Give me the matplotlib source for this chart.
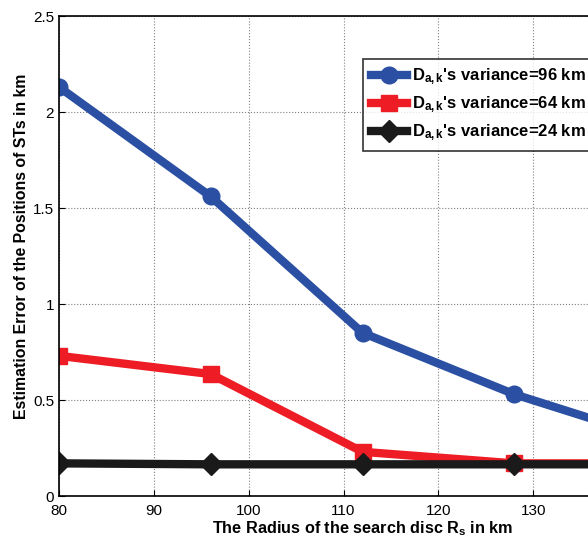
import matplotlib
matplotlib.use("Agg")
import matplotlib.pyplot as plt

plt.rcParams["font.family"] = ["Liberation Sans", "DejaVu Sans"]
plt.rcParams["mathtext.fontset"] = "custom"
plt.rcParams["mathtext.rm"] = "Liberation Sans:bold"
plt.rcParams["mathtext.it"] = "Liberation Sans:bold"
plt.rcParams["mathtext.bf"] = "Liberation Sans:bold"

# dados
raio_km = [80, 96, 112, 128, 144]
erro_var96 = [2.13, 1.56, 0.85, 0.53, 0.28]
erro_var64 = [0.73, 0.635, 0.23, 0.17, 0.17]
erro_var24 = [0.17, 0.165, 0.165, 0.165, 0.165]
rotulos = [r"$\mathrm{D_{a,k}}$'s variance=96 km",
           r"$\mathrm{D_{a,k}}$'s variance=64 km",
           r"$\mathrm{D_{a,k}}$'s variance=24 km"]

fig = plt.figure(figsize=(5.88, 5.41), dpi=100)
# o eixo passa da borda direita, como na figura original (cortada)
ax = fig.add_axes([59/588, 45/541, 607/588, 480/541])

ax.plot(raio_km, erro_var96, color="#2b4fa3", lw=6, marker="o", ms=12,
        label=rotulos[0])
ax.plot(raio_km, erro_var64, color="#ee1c24", lw=6, marker="s", ms=11,
        label=rotulos[1])
ax.plot(raio_km, erro_var24, color="#1a1a1a", lw=6, marker="D", ms=11,
        label=rotulos[2])

ax.set_xlim(80, 144)
ax.set_ylim(0, 2.5)
ax.set_xticks([80, 90, 100, 110, 120, 130, 140])
ax.set_yticks([0, 0.5, 1, 1.5, 2, 2.5])
ax.set_yticklabels(["0", "0.5", "1", "1.5", "2", "2.5"])
ax.tick_params(direction="in", labelsize=11, length=4)
ax.tick_params(axis="x", pad=6)
ax.grid(True, ls=":", color="#808080", lw=0.8)
for s in ax.spines.values():
    s.set_linewidth(1.2)

ax.set_xlabel(r"The Radius of the search disc R$_\mathrm{s}$ in km",
              fontsize=11.7, fontweight="bold", labelpad=1)
ax.set_ylabel("Estimation Error of the Positions of STs in km",
              fontsize=11.4, fontweight="bold")
ax.yaxis.set_label_coords(-0.05, 0.52)

leg = fig.legend(loc="upper left", bbox_to_anchor=(363/588, 1 - 59/541),
                 borderaxespad=0,
                 prop={"weight": "bold", "size": 12}, frameon=True,
                 fancybox=False, edgecolor="black", handlelength=2.2,
                 borderpad=0.45, labelspacing=0.45, handletextpad=0.3)
leg.get_frame().set_linewidth(1.2)

fig.savefig("out.png", dpi=100)
